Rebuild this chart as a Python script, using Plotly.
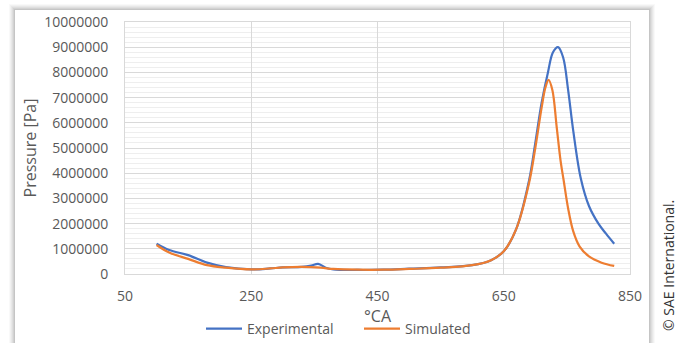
import plotly.graph_objects as go

# Crank angle [°CA] and pressure [Pa]
exp_ca = [100, 120, 150, 180, 210, 250, 280, 300, 330, 345, 356, 368, 380, 420, 460, 500, 550,
          600, 630, 650, 670, 690, 700, 710, 720, 728, 736, 744, 752, 760, 772, 785, 800, 812, 825]
exp_p = [1200000, 950000, 750000, 450000, 270000, 180000, 220000, 260000, 280000, 330000, 400000,
         250000, 180000, 160000, 170000, 210000, 260000, 350000, 550000, 900000, 1800000, 3700000,
         5200000, 6800000, 8000000, 8800000, 9000000, 8600000, 7300000, 5700000, 3800000, 2700000,
         2000000, 1600000, 1200000]

sim_ca = [100, 120, 150, 180, 210, 250, 280, 300, 330, 360, 380, 420, 460, 500, 550, 600, 630,
          650, 670, 690, 700, 710, 716, 721, 727, 734, 740, 745, 752, 760, 770, 785, 805, 825]
sim_p = [1150000, 850000, 600000, 350000, 250000, 180000, 220000, 260000, 280000, 250000, 200000,
         170000, 170000, 200000, 250000, 350000, 550000, 900000, 1800000, 3600000, 5000000, 6600000,
         7400000, 7700000, 7300000, 5800000, 4500000, 3700000, 2600000, 1700000, 1100000, 700000,
         450000, 320000]

x_ticks = [50, 250, 450, 650, 850]
y_ticks = [0, 1000000, 2000000, 3000000, 4000000, 5000000, 6000000, 7000000, 8000000, 9000000, 10000000]

FONT = "Open Sans"
GRAY = "#595959"

fig = go.Figure()
fig.add_trace(go.Scatter(x=exp_ca, y=exp_p, mode="lines", name="Experimental",
                         line=dict(color="#4472C4", width=2.2, shape="spline", smoothing=1.0)))
fig.add_trace(go.Scatter(x=sim_ca, y=sim_p, mode="lines", name="Simulated",
                         line=dict(color="#ED7D31", width=2.2, shape="spline", smoothing=1.0)))

# card shadow
shapes = []
for i, op in enumerate([0.025, 0.03, 0.035, 0.04, 0.05, 0.06]):
    d = 6 - i
    shapes.append(dict(type="rect", xref="paper", yref="paper", layer="below",
                       x0=(15 - d - 125) / 505, x1=(649 + d - 125) / 505,
                       y0=(274 - 343 - 5) / 252, y1=(274 - 10 + d) / 252,
                       fillcolor=f"rgba(0,0,0,{op})", line=dict(width=0)))
shapes.append(dict(type="rect", xref="paper", yref="paper", layer="below",
                   x0=(15 - 125) / 505, x1=(649 - 125) / 505,
                   y0=(274 - 343 - 5) / 252, y1=(274 - 10) / 252,
                   fillcolor="white", line=dict(width=0)))

fig.update_layout(
    width=684, height=343,
    margin=dict(l=125, r=54, t=22, b=69, autoexpand=False),
    paper_bgcolor="white", plot_bgcolor="rgba(0,0,0,0)",
    font=dict(family=FONT, color=GRAY, size=14),
    shapes=shapes,
    showlegend=True,
    legend=dict(orientation="h", x=(201 - 125) / 505, xanchor="left", y=(274 - 329) / 252,
                yanchor="middle", font=dict(family=FONT, size=14, color=GRAY),
                bgcolor="rgba(0,0,0,0)", itemwidth=36, tracegroupgap=0,
                entrywidth=107, entrywidthmode="pixels"),
    xaxis=dict(range=[50, 850], tickvals=x_ticks, ticktext=[str(v) for v in x_ticks],
               showgrid=True, gridcolor="#d9d9d9", gridwidth=1, zeroline=False,
               showline=True, linecolor="#d9d9d9", mirror=True, ticks="",
               tickfont=dict(size=14, color=GRAY), ticklabelstandoff=9,
               title=dict(text="°CA", font=dict(size=16, color=GRAY), standoff=6)),
    yaxis=dict(range=[0, 10000000], tickvals=y_ticks, ticktext=[str(v) for v in y_ticks],
               showgrid=True, gridcolor="#d9d9d9", gridwidth=1, zeroline=False,
               showline=True, linecolor="#d9d9d9", mirror=True, ticks="",
               minor=dict(dtick=200000, showgrid=True, gridcolor="#eeeeee", gridwidth=1),
               tickfont=dict(size=14, color=GRAY), ticklabelstandoff=13,
               title=dict(text="Pressure [Pa]", font=dict(size=16, color=GRAY), standoff=3)),
    annotations=[dict(text="© SAE International.", xref="paper", yref="paper",
                      x=(668 - 125) / 505, y=(274 - 266) / 252, xanchor="center", yanchor="middle",
                      textangle=-90, showarrow=False, font=dict(family=FONT, size=14, color="#333333"))],
)

fig.write_html("out.html")
